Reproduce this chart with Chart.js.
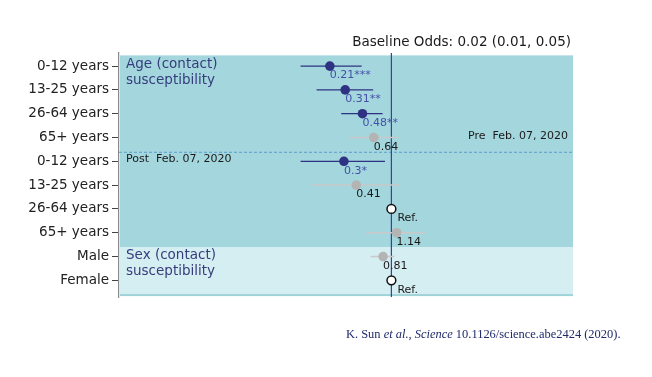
<!DOCTYPE html>
<html>
<head>
<meta charset="utf-8">
<script src="https://cdn.jsdelivr.net/npm/chart.js@4.4.1/dist/chart.umd.min.js"></script>
<style>
  html, body { margin: 0; padding: 0; background: #ffffff; }
  #wrap { position: relative; width: 652px; height: 377px; }
  #cite { position: absolute; left: 346px; top: 327px; font-family: "Liberation Serif", "Times New Roman", serif; font-size: 12.45px; color: #1f2a6b; white-space: nowrap; }
</style>
</head>
<body>
<div id="wrap">
  <canvas id="c" width="652" height="377"></canvas>
  <div id="cite">K. Sun <i>et al.</i>, <i>Science</i> 10.1126/science.abe2424 (2020).</div>
</div>
<script>
// ---- data ----
const categories = ['0-12 years', '13-25 years', '26-64 years', '65+ years',
                    '0-12 years', '13-25 years', '26-64 years', '65+ years',
                    'Male', 'Female'];
const oddsRatio  = [0.21, 0.31, 0.48, 0.64, 0.30, 0.41, 1.00, 1.14, 0.81, 1.00];
const ciLow      = [0.10, 0.15, 0.28, 0.34, 0.10, 0.13, null, 0.53, 0.59, null];
const ciHigh     = [0.47, 0.63, 0.80, 1.18, 0.85, 1.23, null, 2.35, 1.08, null];
const valueLabels = ['0.21***', '0.31**', '0.48**', '0.64', '0.3*', '0.41', 'Ref.', '1.14', '0.81', 'Ref.'];
const kind       = ['sig', 'sig', 'sig', 'ns', 'sig', 'ns', 'ref', 'ns', 'ns', 'ref'];
const titleText  = 'Baseline Odds: 0.02 (0.01, 0.05)';

// ---- styles ----
const NAVY = '#2e3282';
const SIG_TEXT = '#4550a6';
const GRAY = '#b4b4b4';
const GRAY_LINE = '#c9c9c9';
const TEAL = '#a3d6dd';
const LIGHT = '#d5eef2';
const FONT = '"DejaVu Sans", Verdana, sans-serif';

function pts(k) {
  const out = [];
  for (let i = 0; i < categories.length; i++) if (kind[i] === k) out.push({x: oddsRatio[i], y: i});
  return out;
}

const bgPlugin = {
  id: 'bg',
  beforeDatasetsDraw(chart) {
    const {ctx, chartArea: a, scales: {x, y}} = chart;
    ctx.save();
    const t0 = y.getPixelForValue(-0.45), t1 = y.getPixelForValue(7.6), t2 = y.getPixelForValue(9.62);
    ctx.fillStyle = TEAL;
    ctx.fillRect(a.left + 1, t0, a.right - a.left - 1, t1 - t0);
    ctx.fillStyle = LIGHT;
    ctx.fillRect(a.left + 1, t1, a.right - a.left - 1, t2 - t1);
    ctx.fillStyle = '#9fd2d9';
    ctx.fillRect(a.left + 1, t2 - 1, a.right - a.left - 1, 2);
    // dashed period divider
    const yd = y.getPixelForValue(3.6);
    ctx.strokeStyle = '#5b9fca';
    ctx.lineWidth = 1;
    ctx.setLineDash([3, 2]);
    ctx.beginPath(); ctx.moveTo(a.left, yd + 0.5); ctx.lineTo(a.right, yd + 0.5); ctx.stroke();
    ctx.setLineDash([]);
    // reference line at odds ratio 1
    const xr = x.getPixelForValue(1);
    ctx.strokeStyle = '#3b40a0';
    ctx.lineWidth = 1.2;
    ctx.beginPath(); ctx.moveTo(xr, a.top); ctx.lineTo(xr, a.bottom); ctx.stroke();
    // error bars
    for (let i = 0; i < categories.length; i++) {
      if (ciLow[i] == null) continue;
      const yy = y.getPixelForValue(i);
      ctx.strokeStyle = kind[i] === 'sig' ? NAVY : GRAY_LINE;
      ctx.lineWidth = kind[i] === 'sig' ? 1.2 : 1.5;
      ctx.beginPath();
      ctx.moveTo(x.getPixelForValue(ciLow[i]), yy);
      ctx.lineTo(x.getPixelForValue(ciHigh[i]), yy);
      ctx.stroke();
    }
    ctx.restore();
  },
  afterDraw(chart) {
    const {ctx, chartArea: a, scales: {x, y}} = chart;
    ctx.save();
    ctx.textBaseline = 'middle';
    // value labels
    ctx.font = '11px ' + FONT;
    ctx.textAlign = 'left';
    for (let i = 0; i < categories.length; i++) {
      const px = x.getPixelForValue(oddsRatio[i]) + (kind[i] === 'ref' ? 6 : 0);
      const py = y.getPixelForValue(i) + 9.5;
      ctx.fillStyle = kind[i] === 'sig' ? SIG_TEXT : '#1a1a1a';
      ctx.fillText(valueLabels[i], px, py);
    }
    // group annotations
    ctx.font = '13.5px ' + FONT;
    ctx.fillStyle = '#363c7c';
    ctx.fillText('Age (contact)', a.left + 7, y.getPixelForValue(-0.07));
    ctx.fillText('susceptibility', a.left + 7, y.getPixelForValue(0.6));
    ctx.fillText('Sex (contact)', a.left + 7, y.getPixelForValue(7.96));
    ctx.fillText('susceptibility', a.left + 7, y.getPixelForValue(8.62));
    ctx.font = '11px ' + FONT;
    ctx.fillStyle = '#1a1a1a';
    ctx.fillText('Post  Feb. 07, 2020', a.left + 7, y.getPixelForValue(3.92));
    ctx.textAlign = 'right';
    ctx.fillText('Pre  Feb. 07, 2020', a.right - 5, y.getPixelForValue(2.95));
    // title
    ctx.font = '13.5px ' + FONT;
    ctx.fillText(titleText, a.right - 2, 42);
    ctx.restore();
  }
};

new Chart(document.getElementById('c'), {
  type: 'scatter',
  data: {
    datasets: [
      {data: pts('sig'), backgroundColor: NAVY, borderColor: NAVY, pointRadius: 4.8, pointBorderWidth: 0},
      {data: pts('ns'), backgroundColor: GRAY, borderColor: GRAY, pointRadius: 4.8, pointBorderWidth: 0},
      {data: pts('ref'), backgroundColor: '#ffffff', borderColor: '#111111', pointRadius: 4.4, pointBorderWidth: 1.5}
    ]
  },
  options: {
    responsive: false,
    animation: false,
    layout: {padding: {top: 53, right: 79, bottom: 80, left: 0}},
    plugins: {legend: {display: false}, tooltip: {enabled: false}, title: {display: false}},
    scales: {
      x: {type: 'logarithmic', min: 0.001, max: 100, display: false},
      y: {
        type: 'linear', reverse: true, min: -0.55, max: 9.7,
        afterFit(s) { s.width = 119; },
        afterBuildTicks(s) { s.ticks = categories.map((_, i) => ({value: i})); },
        ticks: {
          autoSkip: false,
          callback: (v) => categories[v],
          font: {family: FONT, size: 13.5},
          color: '#222222',
          padding: 3
        },
        grid: {drawOnChartArea: false, drawTicks: true, tickLength: 7, color: '#444444', tickWidth: 1},
        border: {display: true, color: '#888888', width: 1.2}
      }
    }
  },
  plugins: [bgPlugin]
});
</script>
</body>
</html>
